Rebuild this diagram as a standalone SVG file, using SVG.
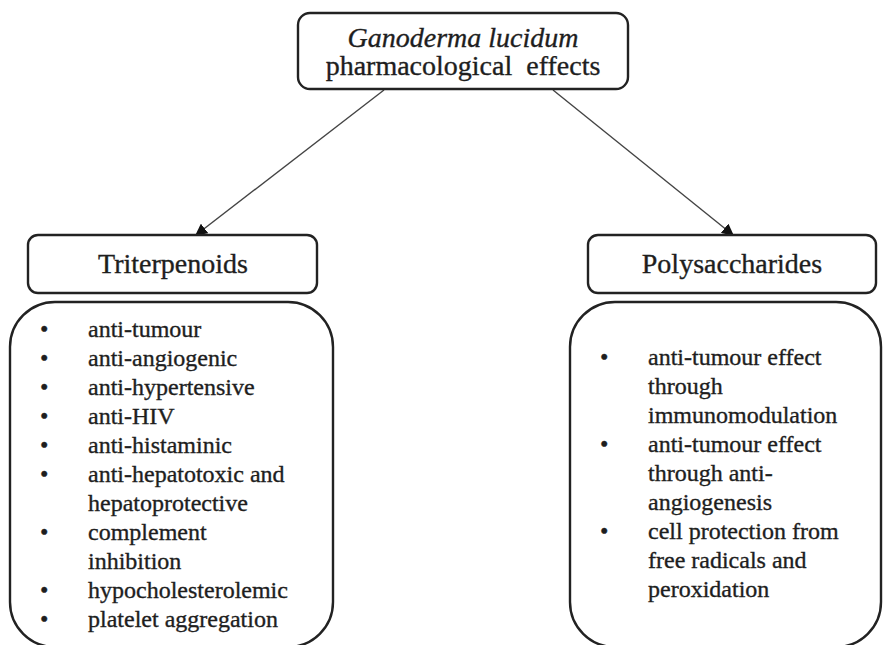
<svg xmlns="http://www.w3.org/2000/svg" width="886" height="645" viewBox="0 0 886 645">
<style>
.box{fill:#fff;stroke:#222;stroke-width:2.4}
.t{font-family:"Liberation Serif","Times New Roman",serif;fill:#1e1e1e;stroke:#1e1e1e;stroke-width:0.35}
.h{font-size:28px}
.li{font-size:24px}
.conn{stroke:#444;stroke-width:1.4;fill:none}
</style>
<defs>
<marker id="ah" viewBox="0 0 10 10" refX="9" refY="5" markerWidth="12" markerHeight="12" markerUnits="userSpaceOnUse" orient="auto">
<path d="M0,0 L10,5 L0,10 z" fill="#111"/>
</marker>
</defs>
<rect width="886" height="645" fill="#fff"/>
<g id="connectors">
<line class="conn" x1="384" y1="90" x2="196" y2="235" marker-end="url(#ah)"/>
<line class="conn" x1="553" y1="90" x2="733" y2="235" marker-end="url(#ah)"/>
</g>
<g id="root">
<rect class="box" x="298" y="13" width="330" height="76" rx="12"/>
<text class="t h" x="463" y="47" text-anchor="middle" font-style="italic">Ganoderma lucidum</text>
<text class="t h" x="463" y="75" text-anchor="middle" xml:space="preserve">pharmacological  effects</text>
</g>
<g id="triterpenoids">
<rect class="box" x="28" y="235" width="289" height="58" rx="10"/>
<text class="t h" x="173" y="273" text-anchor="middle">Triterpenoids</text>
</g>
<g id="polysaccharides">
<rect class="box" x="588" y="235" width="288" height="58" rx="10"/>
<text class="t h" x="732" y="273" text-anchor="middle">Polysaccharides</text>
</g>
<g id="triterpenoids-effects">
<rect class="box" x="10" y="302" width="323" height="345" rx="45"/>
<g class="t li">
<text x="40" y="337">•</text><text x="88" y="337">anti-tumour</text>
<text x="40" y="366">•</text><text x="88" y="366">anti-angiogenic</text>
<text x="40" y="395">•</text><text x="88" y="395">anti-hypertensive</text>
<text x="40" y="424">•</text><text x="88" y="424">anti-HIV</text>
<text x="40" y="453">•</text><text x="88" y="453">anti-histaminic</text>
<text x="40" y="482">•</text><text x="88" y="482">anti-hepatotoxic and</text>
<text x="88" y="511">hepatoprotective</text>
<text x="40" y="540">•</text><text x="88" y="540">complement</text>
<text x="88" y="569">inhibition</text>
<text x="40" y="598">•</text><text x="88" y="598">hypocholesterolemic</text>
<text x="40" y="627">•</text><text x="88" y="627">platelet aggregation</text>
</g>
</g>
<g id="polysaccharides-effects">
<rect class="box" x="570" y="302" width="311" height="345" rx="45"/>
<g class="t li">
<text x="600" y="365">•</text><text x="648" y="365">anti-tumour effect</text>
<text x="648" y="394">through</text>
<text x="648" y="423">immunomodulation</text>
<text x="600" y="452">•</text><text x="648" y="452">anti-tumour effect</text>
<text x="648" y="481">through anti-</text>
<text x="648" y="510">angiogenesis</text>
<text x="600" y="539">•</text><text x="648" y="539">cell protection from</text>
<text x="648" y="568">free radicals and</text>
<text x="648" y="597">peroxidation</text>
</g>
</g>
</svg>
